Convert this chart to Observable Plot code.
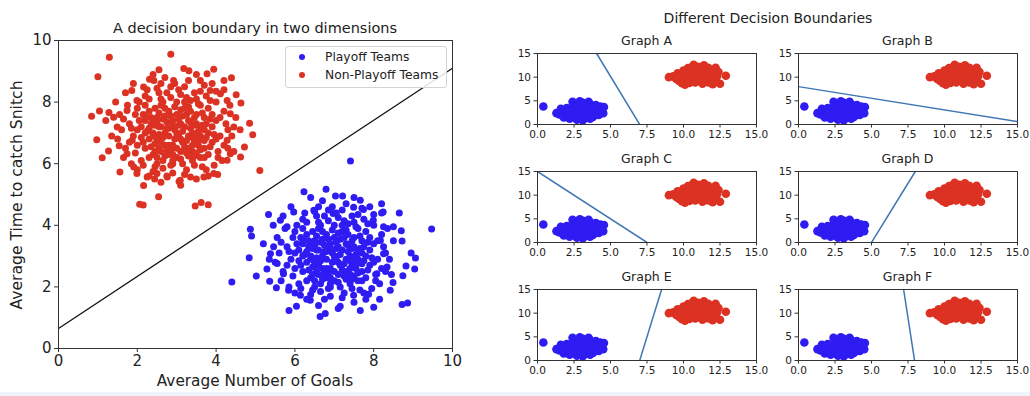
<!DOCTYPE html>
<html><head><meta charset="utf-8">
<script src="https://cdn.jsdelivr.net/npm/d3@7"></script>
<script src="https://cdn.jsdelivr.net/npm/@observablehq/plot@0.6"></script>
<style>
body{margin:0;background:#fff;font-family:"DejaVu Sans",sans-serif;}
#root{position:relative;width:1030px;height:396px;overflow:hidden;background:#fff;}
.t{position:absolute;white-space:nowrap;transform:translate(-50%,-50%);color:#222;line-height:1;}
</style></head><body><div id="root"></div>
<script>
// ---------- data ----------
const RED = "#dc3223", BLUE = "#2e1cf2", LINEC = "#3f77b4";
const mainTitle = "A decision boundary in two dimensions";
const xLabel = "Average Number of Goals";
const yLabel = "Average Time to catch Snitch";
const legendLabels = ["Playoff Teams", "Non-Playoff Teams"];
const leftTicks = [0, 2, 4, 6, 8, 10];
const boundary = [[0, 0.65], [10, 9.1]];

const redLeft = [
[1.29,9.46],[2.85,9.55],[1.0,8.82],[0.84,7.54],[0.97,6.78],[1.11,6.19],[1.56,5.73],[2.06,4.68],[2.15,4.66],[2.54,4.93],
[3.47,4.63],[3.62,4.74],[3.80,4.67],[5.11,5.78],[4.93,6.94],[4.85,7.31],[4.39,8.79],[3.94,9.07],[3.18,9.09],[3.31,9.02],
[2.55,9.05],[2.31,8.74],[1.86,8.38],[4.51,8.24],[4.63,7.97],[4.61,7.1],[4.72,6.54],[4.62,6.22],[4.04,5.65],[3.06,5.42],
[2.44,5.5],[2.16,5.29],[1.28,7.66],[1.04,7.71],[1.40,7.51],[1.49,7.19],[1.27,6.41],[1.54,6.58],[1.74,6.32],[1.87,6.76],
[1.74,7.73],[1.99,8.05],[2.16,8.49],[2.42,8.7],[2.92,8.7],[3.6,8.7],[3.77,8.92],[3.85,8.38],[4.11,8.27],[4.28,8.05],
[4.36,7.62],[4.45,7.19],[4.28,6.76],[4.36,6.32],[4.28,6.11],[3.94,5.68],[3.69,5.57],[3.35,5.57],[3.09,5.46],[2.76,5.57],
[2.5,5.68],[2.25,5.57],[1.99,5.68],[1.91,5.89],
[2.1,7.2],[2.3,6.8],[2.5,7.5],[2.7,7.0],[2.9,6.6],[3.1,7.3],[3.3,6.9],[3.5,7.6],[3.7,7.1],[3.9,6.7],
[2.2,7.9],[2.4,6.3],[2.6,8.1],[2.8,7.7],[3.0,6.2],[3.2,8.0],[3.4,6.4],[3.6,7.9],[3.8,6.3],[4.0,7.4],
[2.0,6.6],[2.15,7.6],[2.35,7.3],[2.55,6.5],[2.75,8.3],[2.95,7.1],[3.15,6.0],[3.35,7.7],[3.55,6.6],[3.75,8.2],
[1.8,7.3],[1.9,6.9],[2.05,8.0],[2.45,5.9],[2.65,6.1],[2.85,8.5],[3.05,8.4],[3.25,5.8],[3.45,8.3],[3.65,5.9],
[4.1,6.9],[4.2,7.7],[4.3,6.5],[4.0,8.0],[3.95,5.95],[1.7,6.5],[1.75,7.9],[2.25,8.4],[2.6,8.6],[3.3,8.7],
[3.0,7.0],[3.1,6.8],[2.9,7.4],[2.8,6.9],[3.2,7.2],[3.4,7.0],[2.6,7.2],[2.7,6.6],[3.5,7.3],[3.3,6.5],
[2.4,7.0],[2.5,6.8],[3.6,6.9],[3.7,7.5],[2.3,7.7],[3.8,7.8],[2.2,6.5],[3.9,7.2],[2.1,6.1],[4.05,6.4],
[2.7,7.8],[2.8,6.3],[3.0,7.6],[3.1,6.4],[3.2,7.8],[3.4,6.1],[2.5,6.0],[2.9,5.7],[3.6,6.2],[3.5,8.1],
[1.6,7.1],[1.65,6.2],[1.85,6.0],[1.95,7.6],[4.15,6.1],[4.25,7.3],[4.4,6.9],[4.35,7.9],[4.2,8.4],[4.45,6.4],
[2.3,5.6],[2.6,5.4],[3.8,5.6],[3.5,5.5],[2.0,5.8],[3.1,5.3],[2.75,5.6],[4.5,7.5],[1.5,6.8],[1.55,7.6],
[1.2,7.4],[1.35,6.9],[1.45,8.0],[1.7,8.3],[1.9,8.6],[2.4,8.9],[2.7,8.8],[3.5,8.9],[3.9,8.6],[4.2,8.7],
[2.0,7.1],[2.2,7.4],[3.0,8.0],[3.7,6.5],[2.9,6.0],[3.3,7.4],[2.45,7.8],[3.15,6.7],[2.55,7.2],[3.45,7.5],
[2.25,7.05],[2.35,6.55],[2.45,7.25],[2.55,7.65],[2.65,6.85],[2.75,7.35],[2.85,6.45],[2.95,7.85],[3.05,6.95],[3.15,7.55],
[3.25,6.35],[3.35,7.15],[3.45,6.75],[3.55,7.95],[3.65,7.25],[3.75,6.85],[3.85,7.45],[2.3,6.2],[2.5,6.2],[2.7,6.25],
[2.9,6.3],[3.1,6.15],[3.3,6.25],[3.5,6.35],[3.7,6.2],[2.35,7.5],[2.6,7.9],[2.85,7.55],[3.05,7.25],[3.25,7.6],
[3.55,7.05],[3.8,7.0],[2.2,7.0],[2.45,6.65],[2.65,7.45],[2.8,7.15],[2.95,6.8],[3.15,7.05],[3.4,6.85],[3.6,6.45],
[2.4,7.4],[2.6,6.7],[2.75,6.45],[3.0,6.5],[3.25,6.75],[3.45,7.25],[3.65,7.65],[3.85,6.55],[2.3,8.1],[2.55,8.3],
[2.85,8.15],[3.1,8.25],[3.35,8.05],[3.6,8.35],[3.85,8.05],[4.0,6.8],[4.1,7.5],[4.2,6.6],[4.3,7.1],[2.05,7.4],
[2.1,6.85],[1.95,6.35],[2.15,5.95],[2.4,5.75],[2.65,5.85],[2.9,6.1],[3.2,5.65],[3.45,5.95],[3.75,5.8],[4.05,6.2],
[2.5,8.45],[2.95,8.6],[3.2,8.5],[3.7,8.55],[4.0,8.35],[1.85,7.15],[1.65,7.45],[1.8,6.7],[2.0,7.8],[2.2,8.2],
[2.3,7.15],[2.5,7.35],[2.7,7.55],[2.9,7.25],[3.1,7.75],[3.3,7.85],[3.5,6.9],[3.7,6.75],[2.6,6.4],[2.8,6.6],
[3.0,6.85],[3.2,6.55],[3.4,6.6],[3.6,7.15],[2.4,6.9],[2.2,7.55],[3.9,7.6],[3.75,7.3],[2.55,6.95],[3.35,7.35],
[2.75,7.15],[3.05,7.45],[2.45,6.4],[3.55,6.75],[2.15,6.7],[3.95,6.95],[2.65,8.0],[3.25,8.15],[3.45,6.25],[2.85,5.95]
];

const blueLeft = [
[7.41,6.09],[6.79,5.17],[6.23,5.09],[7.03,4.95],[7.21,4.95],[5.33,4.35],[4.87,3.87],[4.9,3.65],[4.84,2.95],[5.02,2.35],
[4.4,2.16],[5.29,2.58],[5.36,2.18],[5.53,1.97],[5.85,1.23],[6.04,1.37],[6.64,1.04],[6.77,1.14],[7.66,1.23],[8.0,1.34],
[8.72,1.43],[8.86,1.48],[9.04,2.58],[9.06,2.94],[8.95,3.1],[9.47,3.88],[8.65,4.4],[8.24,4.43],[8.7,3.82],[8.72,3.49],
[8.49,2.14],[8.74,2.36],[8.82,2.68],[8.15,1.6],[7.87,1.76],[7.49,1.73],[7.15,1.37],[6.39,1.57],[6.14,1.73],[5.84,1.89],
[7.66,4.81],[7.74,4.51],[6.48,4.49],[5.97,4.43],[5.63,4.16],[5.8,3.95],[5.46,3.3],[5.38,3.08],[5.55,2.76],[5.71,2.43],
[8.17,3.51],[8.25,3.08],[8.34,2.65],[8.08,2.43],[8.42,1.89],[8.25,3.95],[8.5,3.95],[7.99,4.16],[7.49,4.59],[6.97,4.38],
[6.1,3.2],[6.3,2.8],[6.5,3.5],[6.7,3.0],[6.9,2.6],[7.1,3.3],[7.3,2.9],[7.5,3.6],[7.7,3.1],[7.9,2.7],
[6.2,3.9],[6.4,2.3],[6.6,4.1],[6.8,3.7],[7.0,2.2],[7.2,4.0],[7.4,2.4],[7.6,3.9],[7.8,2.3],[8.0,3.4],
[6.0,2.6],[6.15,3.6],[6.35,3.3],[6.55,2.5],[6.75,4.3],[6.95,3.1],[7.15,2.0],[7.35,3.7],[7.55,2.6],[7.75,4.2],
[5.8,3.3],[5.9,2.9],[6.05,4.0],[6.45,1.9],[6.65,2.1],[6.85,4.5],[7.05,4.4],[7.25,1.8],[7.45,4.3],[7.65,1.9],
[8.1,2.9],[8.2,3.7],[8.3,2.5],[8.0,4.0],[7.95,1.95],[5.7,2.5],[5.75,3.9],[6.25,4.4],[6.6,4.6],[7.3,4.7],
[7.0,3.0],[7.1,2.8],[6.9,3.4],[6.8,2.9],[7.2,3.2],[7.4,3.0],[6.6,3.2],[6.7,2.6],[7.5,3.3],[7.3,2.5],
[6.4,3.0],[6.5,2.8],[7.6,2.9],[7.7,3.5],[6.3,3.7],[7.8,3.8],[6.2,2.5],[7.9,3.2],[6.1,2.1],[8.05,2.4],
[6.7,3.8],[6.8,2.3],[7.0,3.6],[7.1,2.4],[7.2,3.8],[7.4,2.1],[6.5,2.0],[6.9,1.7],[7.6,2.2],[7.5,4.1],
[5.6,3.1],[5.65,2.2],[5.85,2.0],[5.95,3.6],[8.15,2.1],[8.25,3.3],[8.4,2.9],[8.35,3.9],[8.2,4.4],[8.45,2.4],
[6.3,1.6],[6.6,1.4],[7.8,1.6],[7.5,1.5],[6.0,1.8],[7.1,1.3],[6.75,1.6],[8.5,3.5],[5.5,2.8],[5.55,3.6],
[5.2,3.4],[5.35,2.9],[5.45,4.0],[5.7,4.3],[5.9,4.6],[6.4,4.9],[6.7,4.8],[7.5,4.9],[7.9,4.6],[8.2,4.7],
[6.0,3.1],[6.2,3.4],[7.0,4.0],[7.7,2.5],[6.9,2.0],[7.3,3.4],[6.45,3.8],[7.15,2.7],[6.55,3.2],[7.45,3.5],
[6.25,3.05],[6.35,2.55],[6.45,3.25],[6.55,3.65],[6.65,2.85],[6.75,3.35],[6.85,2.45],[6.95,3.85],[7.05,2.95],[7.15,3.55],
[7.25,2.35],[7.35,3.15],[7.45,2.75],[7.55,3.95],[7.65,3.25],[7.75,2.85],[7.85,3.45],[6.3,2.2],[6.5,2.2],[6.7,2.25],
[6.9,2.3],[7.1,2.15],[7.3,2.25],[7.5,2.35],[7.7,2.2],[6.35,3.5],[6.6,3.9],[6.85,3.55],[7.05,3.25],[7.25,3.6],
[7.55,3.05],[7.8,3.0],[6.2,3.0],[6.45,2.65],[6.65,3.45],[6.8,3.15],[6.95,2.8],[7.15,3.05],[7.4,2.85],[7.6,2.45],
[6.4,3.4],[6.6,2.7],[6.75,2.45],[7.0,2.5],[7.25,2.75],[7.45,3.25],[7.65,3.65],[7.85,2.55],[6.3,4.1],[6.55,4.3],
[6.85,4.15],[7.1,4.25],[7.35,4.05],[7.6,4.35],[7.85,4.05],[8.0,2.8],[8.1,3.5],[8.2,2.6],[8.3,3.1],[6.05,3.4],
[6.1,2.85],[5.95,2.35],[6.15,1.95],[6.4,1.75],[6.65,1.85],[6.9,2.1],[7.2,1.65],[7.45,1.95],[7.75,1.8],[8.05,2.2],
[6.5,4.45],[6.95,4.6],[7.2,4.5],[7.7,4.55],[8.0,4.35],[5.85,3.15],[5.65,3.45],[5.8,2.7],[6.0,3.8],[6.2,4.2],
[6.3,3.15],[6.5,3.35],[6.7,3.55],[6.9,3.25],[7.1,3.75],[7.3,3.85],[7.5,2.9],[7.7,2.75],[6.6,2.4],[6.8,2.6],
[7.0,2.85],[7.2,2.55],[7.4,2.6],[7.6,3.15],[6.4,2.9],[6.2,3.55],[7.9,3.6],[7.75,3.3],[6.55,2.95],[7.35,3.35],
[6.75,3.15],[7.05,3.45],[6.45,2.4],[7.55,2.75],[6.15,2.7],[7.95,2.95],[6.65,4.0],[7.25,4.15],[7.45,2.25],[6.85,1.95]
];

const rightTitle = "Different Decision Boundaries";
const graphNames = ["Graph A", "Graph B", "Graph C", "Graph D", "Graph E", "Graph F"];
const smallXTicks = [0, 2.5, 5, 7.5, 10, 12.5, 15];
const smallYTicks = [0, 5, 10, 15];
const lineA = [[4.05,15],[7.0,0]];
const lineB = [[0,8.0],[15,0.6]];
const lineC = [[0,15],[7.5,0]];
const lineD = [[5.0,0],[8.0,15]];
const lineE = [[7.0,0],[8.5,15]];
const lineF = [[7.2,15],[7.95,0]];

const blueSmall = [
[0.4,3.8],[1.3,2.4],[1.5,2.1],[1.6,2.8],[1.7,2.3],[1.8,1.5],[1.9,3.0],[2.0,2.2],[2.1,2.7],[2.2,1.6],
[2.3,3.4],[2.4,4.8],[2.4,2.0],[2.5,2.9],[2.6,1.5],[2.6,3.8],[2.7,2.4],[2.8,3.1],[2.8,4.3],[2.9,1.8],
[3.0,2.7],[3.0,3.6],[3.1,0.9],[3.1,4.6],[3.2,2.1],[3.2,3.2],[3.3,1.4],[3.3,4.1],[3.4,2.6],[3.4,3.7],
[3.5,4.8],[3.5,1.9],[3.6,3.0],[3.6,4.3],[3.7,2.3],[3.8,3.6],[3.8,1.6],[3.9,2.9],[4.0,4.1],[4.0,2.4],
[4.1,3.3],[4.2,2.0],[4.3,3.8],[4.55,3.7],[4.5,2.4],[2.0,3.5],[2.2,1.2],[2.7,1.0],[3.0,1.3],[3.6,1.2],
[1.6,3.3],[2.9,4.9],[4.4,3.0]
];
const redSmall = [
[9.0,10.0],[9.3,10.2],[9.5,9.6],[9.6,10.8],[9.7,9.2],[9.8,10.4],[9.9,8.7],[10.0,11.4],[10.0,9.9],[10.1,8.4],
[10.2,10.6],[10.2,9.4],[10.3,11.9],[10.4,10.1],[10.4,8.8],[10.5,11.2],[10.6,9.6],[10.7,12.6],[10.7,10.4],[10.8,8.9],
[10.9,11.5],[10.9,9.9],[11.0,12.2],[11.1,10.7],[11.1,9.2],[11.2,11.8],[11.3,10.2],[11.3,8.6],[11.4,12.5],[11.5,11.0],
[11.5,9.5],[11.6,10.4],[11.7,12.0],[11.7,8.9],[11.8,11.4],[11.9,9.8],[12.0,10.7],[12.0,8.5],[12.1,11.6],[12.2,9.3],
[12.3,10.2],[12.4,11.1],[12.5,8.6],[12.9,10.3],[10.5,10.0],[11.0,10.5],[10.8,11.0],[11.4,9.8],[9.6,9.9],[12.2,12.0],
[10.3,9.0],[11.9,10.6],[10.6,12.2]
];

// ---------- helpers ----------
const pts = a => a.map(([x, y]) => ({x, y}));
const root = document.getElementById("root");
function text(str, x, y, size, extra) {
  const d = document.createElement("div");
  d.className = "t"; d.textContent = str;
  d.style.left = x + "px"; d.style.top = y + "px"; d.style.fontSize = size + "px";
  if (extra) d.style.transform = extra;
  root.appendChild(d); return d;
}
function place(svg, left, top) {
  svg.style.position = "absolute"; svg.style.left = left + "px"; svg.style.top = top + "px";
  root.appendChild(svg);
}

// ---------- left chart ----------
const L = {ml: 58, mr: 18, mt: 40, mb: 48, w: 470, h: 396};
const leftPlot = Plot.plot({
  width: L.w, height: L.h,
  marginLeft: L.ml, marginRight: L.mr, marginTop: L.mt, marginBottom: L.mb,
  x: {domain: [0, 10]}, y: {domain: [0, 10]},
  style: {fontFamily: "DejaVu Sans", fontSize: "15px", color: "#222", background: "transparent", overflow: "visible"},
  marks: [
    Plot.dot(pts(blueLeft), {x: "x", y: "y", r: 3.5, fill: BLUE}),
    Plot.dot(pts(redLeft), {x: "x", y: "y", r: 3.5, fill: RED}),
    Plot.line(pts(boundary), {x: "x", y: "y", stroke: "#111", strokeWidth: 1.3}),
    Plot.frame({stroke: "#333", strokeWidth: 1}),
    Plot.axisX({ticks: leftTicks, tickFormat: d => String(d), tickSize: 4, tickPadding: 3, label: null, stroke: "#333"}),
    Plot.axisY({ticks: leftTicks, tickFormat: d => String(d), tickSize: 4, tickPadding: 3, label: null, stroke: "#333"})
  ]
});
place(leftPlot, 0, 0);
text(mainTitle, 255, 28, 14.5);
text(xLabel, 255, 382, 15.3);
text(yLabel, 18, 195, 15.6, "translate(-50%,-50%) rotate(-90deg)");

// legend
const leg = document.createElement("div");
Object.assign(leg.style, {position: "absolute", left: "285px", top: "46px", width: "160px", height: "40px",
  border: "1px solid #d4d4d4", borderRadius: "3px", background: "rgba(255,255,255,0.85)"});
root.appendChild(leg);
[[BLUE, 57], [RED, 75]].forEach(([c, y], i) => {
  const dot = document.createElement("div");
  Object.assign(dot.style, {position: "absolute", left: "299px", top: (y - 3) + "px", width: "6px", height: "6px",
    borderRadius: "50%", background: c});
  root.appendChild(dot);
  const t = text(legendLabels[i], 325, y, 12.3);
  t.style.transform = "translate(0,-50%)";
});

// ---------- small multiples ----------
text(rightTitle, 768, 18, 14);
const S = {ml: 30, mr: 16, mt: 5, mb: 22, fw: 219, fh: 71};
const colX = [537, 798];
const rowY = [52.5, 170.5, 289];
const lines = [lineA, lineB, lineC, lineD, lineE, lineF];
graphNames.forEach((name, i) => {
  const col = i % 2, row = Math.floor(i / 2);
  const p = Plot.plot({
    width: S.ml + S.fw + S.mr, height: S.mt + S.fh + S.mb,
    marginLeft: S.ml, marginRight: S.mr, marginTop: S.mt, marginBottom: S.mb,
    x: {domain: [0, 15]}, y: {domain: [0, 15]},
    style: {fontFamily: "DejaVu Sans", fontSize: "10.5px", color: "#222", background: "transparent", overflow: "visible"},
    marks: [
      Plot.dot(pts(blueSmall), {x: "x", y: "y", r: 4.3, fill: BLUE}),
      Plot.dot(pts(redSmall), {x: "x", y: "y", r: 4.3, fill: RED}),
      Plot.line(pts(lines[i]), {x: "x", y: "y", stroke: LINEC, strokeWidth: 1.5, clip: true}),
      Plot.frame({stroke: "#333", strokeWidth: 1}),
      Plot.axisX({ticks: smallXTicks, tickFormat: d3.format(".1f"), tickSize: 3.5, tickPadding: 3, label: null, stroke: "#333"}),
      Plot.axisY({ticks: smallYTicks, tickFormat: d => String(d), tickSize: 3.5, tickPadding: 3, label: null, stroke: "#333"})
    ]
  });
  place(p, colX[col] - S.ml, rowY[row] - S.mt);
  text(name, colX[col] + S.fw / 2, rowY[row] - 12, 12.5);
});

// bottom band
const band = document.createElement("div");
Object.assign(band.style, {position: "absolute", left: "0", top: "392px", width: "1030px", height: "4px", background: "#eff3fa"});
root.appendChild(band);
</script>
</body></html>
